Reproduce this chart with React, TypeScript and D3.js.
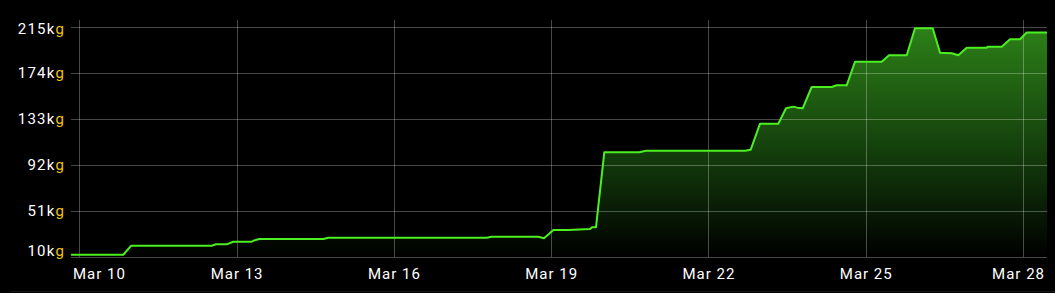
import React, { useEffect, useRef } from "react";
import * as d3 from "d3";

const timestamps: string[] = [
  "2024-03-09T20:13", "2024-03-10T20:08", "2024-03-10T23:40", "2024-03-12T12:36",
  "2024-03-12T14:34", "2024-03-12T19:28", "2024-03-12T22:29", "2024-03-13T06:55",
  "2024-03-13T07:39", "2024-03-13T10:24", "2024-03-14T15:41", "2024-03-14T17:58",
  "2024-03-17T18:29", "2024-03-17T20:47", "2024-03-18T18:07", "2024-03-18T20:43",
  "2024-03-19T00:59", "2024-03-19T07:42", "2024-03-19T17:47", "2024-03-19T18:41",
  "2024-03-19T20:31", "2024-03-20T00:19", "2024-03-20T16:20", "2024-03-20T19:25",
  "2024-03-22T16:44", "2024-03-22T19:20", "2024-03-22T23:36", "2024-03-23T07:58",
  "2024-03-23T11:30", "2024-03-23T14:50", "2024-03-23T16:39", "2024-03-23T19:08",
  "2024-03-23T23:15", "2024-03-24T08:25", "2024-03-24T10:43", "2024-03-24T15:17",
  "2024-03-24T19:05", "2024-03-25T07:18", "2024-03-25T10:39", "2024-03-25T18:45",
  "2024-03-25T22:33", "2024-03-26T06:39", "2024-03-26T10:00", "2024-03-26T15:22",
  "2024-03-26T18:23", "2024-03-26T22:14", "2024-03-27T07:23", "2024-03-27T07:49",
  "2024-03-27T14:14", "2024-03-27T18:03", "2024-03-27T22:38", "2024-03-28T01:41",
  "2024-03-28T10:58",
];

const weights: number[] = [
  12, 12, 20, 20,
  21.3, 21.3, 23.6, 23.6,
  24.5, 26, 26, 27.2,
  27.2, 28.1, 28.1, 26.7,
  34, 34, 35, 36.5,
  36.5, 103.3, 103.3, 104.7,
  104.7, 105.6, 128.8, 128.8,
  142.5, 144, 143.1, 142.5,
  161.5, 161.5, 163, 163,
  184, 184, 189.8, 189.8,
  213.8, 213.8, 192, 191.5,
  189.8, 196.5, 196.5, 197.4,
  197.4, 204, 204, 210,
  210,
];

const yTicks: number[] = [10, 51, 92, 133, 174, 215];
const xTickDates: string[] = ["2024-03-10", "2024-03-13", "2024-03-16", "2024-03-19", "2024-03-22", "2024-03-25", "2024-03-28"];
const xTickLabels: string[] = ["Mar 10", "Mar 13", "Mar 16", "Mar 19", "Mar 22", "Mar 25", "Mar 28"];

const W = 1055;
const H = 293;
const L = 71;
const R = 1047;
const T = 20;
const B = 257;

export default function App() {
  const ref = useRef<SVGSVGElement | null>(null);

  useEffect(() => {
    document.body.style.margin = "0";
    document.body.style.background = "#000";
    const svg = d3.select(ref.current);
    svg.selectAll("*").remove();

    const parse = (s: string) => new Date(s);
    const data = timestamps.map((t, i) => ({ t: parse(t), v: weights[i] }));

    const x = d3
      .scaleTime()
      .domain([parse("2024-03-09T20:12"), parse("2024-03-28T10:58")])
      .range([L, R]);
    const y = d3.scaleLinear().domain([10, 221.2]).range([B, T]);

    const defs = svg.append("defs");
    const grad = defs
      .append("linearGradient")
      .attr("id", "fillGrad")
      .attr("gradientUnits", "userSpaceOnUse")
      .attr("x1", 0)
      .attr("x2", 0)
      .attr("y1", T)
      .attr("y2", B);
    grad.append("stop").attr("offset", "0%").attr("stop-color", "#2e8419");
    grad.append("stop").attr("offset", "55%").attr("stop-color", "#143f0c");
    grad.append("stop").attr("offset", "100%").attr("stop-color", "#000000");

    svg.append("rect").attr("width", W).attr("height", H).attr("fill", "#000");

    const area = d3
      .area<{ t: Date; v: number }>()
      .x((d) => x(d.t))
      .y0(B)
      .y1((d) => y(d.v));
    svg.append("path").datum(data).attr("d", area).attr("fill", "url(#fillGrad)");

    const grid = svg.append("g");
    yTicks.forEach((t) => {
      const yy = Math.round(y(t)) + 0.5;
      grid
        .append("line")
        .attr("x1", L)
        .attr("x2", R)
        .attr("y1", yy)
        .attr("y2", yy)
        .attr("stroke", "rgba(255,255,255,0.28)")
        .attr("stroke-width", 1);
    });
    xTickDates.forEach((d) => {
      const xx = Math.round(x(parse(d + "T00:00"))) + 0.5;
      grid
        .append("line")
        .attr("x1", xx)
        .attr("x2", xx)
        .attr("y1", T)
        .attr("y2", B)
        .attr("stroke", "rgba(255,255,255,0.28)")
        .attr("stroke-width", 1);
    });

    const line = d3
      .line<{ t: Date; v: number }>()
      .x((d) => x(d.t))
      .y((d) => y(d.v));
    svg
      .append("path")
      .datum(data)
      .attr("d", line)
      .attr("fill", "none")
      .attr("stroke", "#4cf020")
      .attr("stroke-width", 2)
      .attr("stroke-linejoin", "round");

    const font = "Roboto, 'Open Sans', sans-serif";
    yTicks.forEach((t) => {
      const base = Math.min(256, Math.max(34, y(t) + 5.5));
      const txt = svg
        .append("text")
        .attr("x", 65)
        .attr("y", base)
        .attr("text-anchor", "end")
        .attr("font-family", font)
        .attr("font-size", 15)
        .attr("letter-spacing", 1.2)
        .attr("fill", "#ffffff");
      txt.append("tspan").text(`${t}k`);
      txt.append("tspan").attr("fill", "#f2c40f").text("g");
    });

    xTickDates.forEach((d, i) => {
      const xx = x(parse(d + "T00:00"));
      let anchor = "middle";
      let px = xx + 0.5;
      if (i === 0) {
        anchor = "start";
        px = 73;
      } else if (i === xTickDates.length - 1) {
        anchor = "end";
        px = 1045;
      }
      svg
        .append("text")
        .attr("x", px)
        .attr("y", 279)
        .attr("text-anchor", anchor)
        .attr("font-family", font)
        .attr("font-size", 15)
        .attr("letter-spacing", 1)
        .attr("fill", "#ffffff")
        .text(xTickLabels[i]);
    });

    svg
      .append("line")
      .attr("x1", 10)
      .attr("x2", W)
      .attr("y1", 291.5)
      .attr("y2", 291.5)
      .attr("stroke", "#161616");
  }, []);

  return (
    <svg
      ref={ref}
      width={W}
      height={H}
      style={{ position: "fixed", top: 0, left: 0, display: "block" }}
    />
  );
}
